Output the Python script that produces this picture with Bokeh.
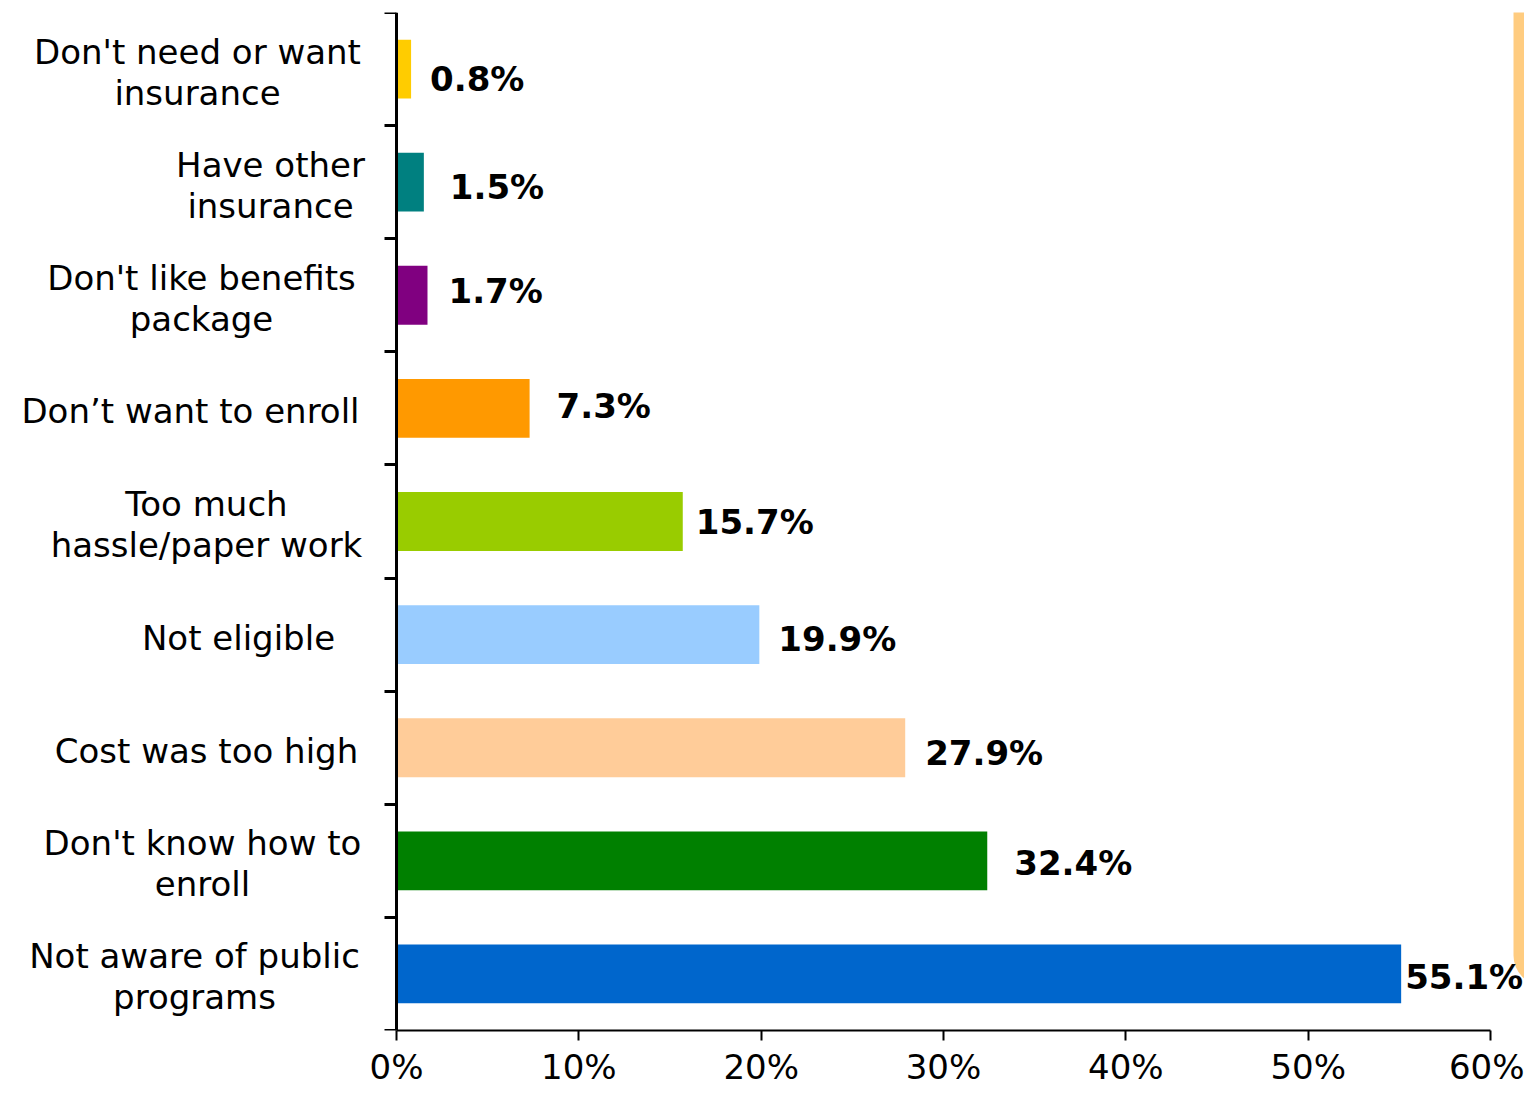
from bokeh.plotting import figure
from bokeh.models import ColumnDataSource, LabelSet, FixedTicker, BoxAnnotation
from bokeh.core.properties import value
from bokeh.embed import file_html
from bokeh.resources import INLINE

# Data, listed top to bottom as shown
categories = [
    "Don't need or want\ninsurance",
    "Have other\ninsurance",
    "Don't like benefits\npackage",
    "Don\u2019t want to enroll",
    "Too much\nhassle/paper work",
    "Not eligible",
    "Cost was too high",
    "Don't know how to\nenroll",
    "Not aware of public\nprograms",
]
values = [0.8, 1.5, 1.7, 7.3, 15.7, 19.9, 27.9, 32.4, 55.1]
value_labels = ["0.8%", "1.5%", "1.7%", "7.3%", "15.7%", "19.9%", "27.9%", "32.4%", "55.1%"]
colors = ["#FFCC00", "#008080", "#800080", "#FF9900", "#99CC00",
          "#99CCFF", "#FFCC99", "#008000", "#0066CC"]
x_ticks = [0, 10, 20, 30, 40, 50, 60]
x_tick_labels = ["0%", "10%", "20%", "30%", "40%", "50%", "60%"]

# style: label placement in screen pixels
cat_label_centers_px = [197, 270, 201, 190, 206, 238, 206, 202, 194]
value_label_dx = [19, 26, 21, 27, 13, 19, 20, 27, 4]
value_label_dy_down = [10, 5, -4, -2, 0, 4, 5, 2, 3]
LINE_STEP = 41
CAT_DY_DOWN = 3

n = len(categories)
ypos = [n - i - 0.5 for i in range(n)]

W, H = 1524, 1089
FRAME_LEFT = 10          # canvas px where the frame begins
ZERO_PX, SIXTY_PX = 396, 1490
px_per_unit = (SIXTY_PX - ZERO_PX) / 60
x_start = -(ZERO_PX - FRAME_LEFT) / px_per_unit
x_end = x_start + (W - FRAME_LEFT) / px_per_unit

src = ColumnDataSource(dict(
    y=ypos, v=values, zero=[0] * n, lab=value_labels,
    color=colors, vdx=value_label_dx, vdy=[-d for d in value_label_dy_down],
))

# one label per text line, so that every line is centred on its own
line_text, line_y, line_dx, line_dy = [], [], [], []
for cat, yc, cx in zip(categories, ypos, cat_label_centers_px):
    lines = cat.split("\n")
    k = len(lines)
    for j, t in enumerate(lines):
        line_text.append(t)
        line_y.append(yc)
        line_dx.append(cx - ZERO_PX)
        line_dy.append(((k - 1) / 2 - j) * LINE_STEP - CAT_DY_DOWN)
cat_src = ColumnDataSource(dict(t=line_text, y=line_y, x=[0] * len(line_text),
                                dx=line_dx, dy=line_dy))

FONT = "DejaVu Sans"

p = figure(width=W, height=H, x_range=(x_start, x_end), y_range=(0, n),
           output_backend="svg", toolbar_location=None,
           min_border_left=FRAME_LEFT, min_border_right=0,
           min_border_top=12, min_border_bottom=59)
p.outline_line_color = None
p.grid.visible = False
p.background_fill_color = "white"
p.border_fill_color = "white"

# decorative orange border at right edge
p.add_layout(BoxAnnotation(left=1513, right=1900, top=-200, bottom=985,
                           left_units="canvas", right_units="canvas",
                           top_units="canvas", bottom_units="canvas",
                           fill_color="#FFCC80", fill_alpha=1, line_color=None,
                           border_radius=30, level="underlay"))

p.hbar(y="y", left="zero", right="v", height=0.52, color="color",
       line_color=None, source=src)

# x axis
xa = p.xaxis[0]
xa.bounds = (0, 60)
xa.ticker = FixedTicker(ticks=x_ticks)
xa.major_label_overrides = {t: l for t, l in zip(x_ticks, x_tick_labels)}
xa.axis_line_width = 2
xa.axis_line_color = "black"
xa.major_tick_line_width = 2
xa.major_tick_out = 10
xa.major_tick_in = 0
xa.minor_tick_line_color = None
xa.major_label_text_font = FONT
xa.major_label_text_font_size = "34px"
xa.major_label_text_color = "black"
xa.major_label_standoff = 6

# y axis drawn at x = 0, tick marks at category boundaries
ya = p.yaxis[0]
ya.fixed_location = 0
ya.ticker = FixedTicker(ticks=ypos, minor_ticks=list(range(n + 1)))
ya.major_label_overrides = {y: "" for y in ypos}
ya.major_label_standoff = 0
ya.axis_line_width = 3
ya.axis_line_color = "black"
ya.major_tick_line_color = None
ya.major_tick_out = 0
ya.major_tick_in = 0
ya.minor_tick_line_color = "black"
ya.minor_tick_line_width = 3
ya.minor_tick_out = 12
ya.minor_tick_in = 0

# category labels
p.add_layout(LabelSet(x="x", y="y", text="t", x_offset="dx", y_offset="dy",
                      source=cat_src, text_align="center", text_baseline="middle",
                      text_font=value(FONT), text_font_size="34px",
                      text_color="black"))

# value labels
p.add_layout(LabelSet(x="v", y="y", text="lab", x_offset="vdx", y_offset="vdy",
                      source=src, text_align="left", text_baseline="middle",
                      text_font=value(FONT), text_font_size="34px",
                      text_font_style="bold", text_color="black"))

open("out.html", "w").write(file_html(p, INLINE))
